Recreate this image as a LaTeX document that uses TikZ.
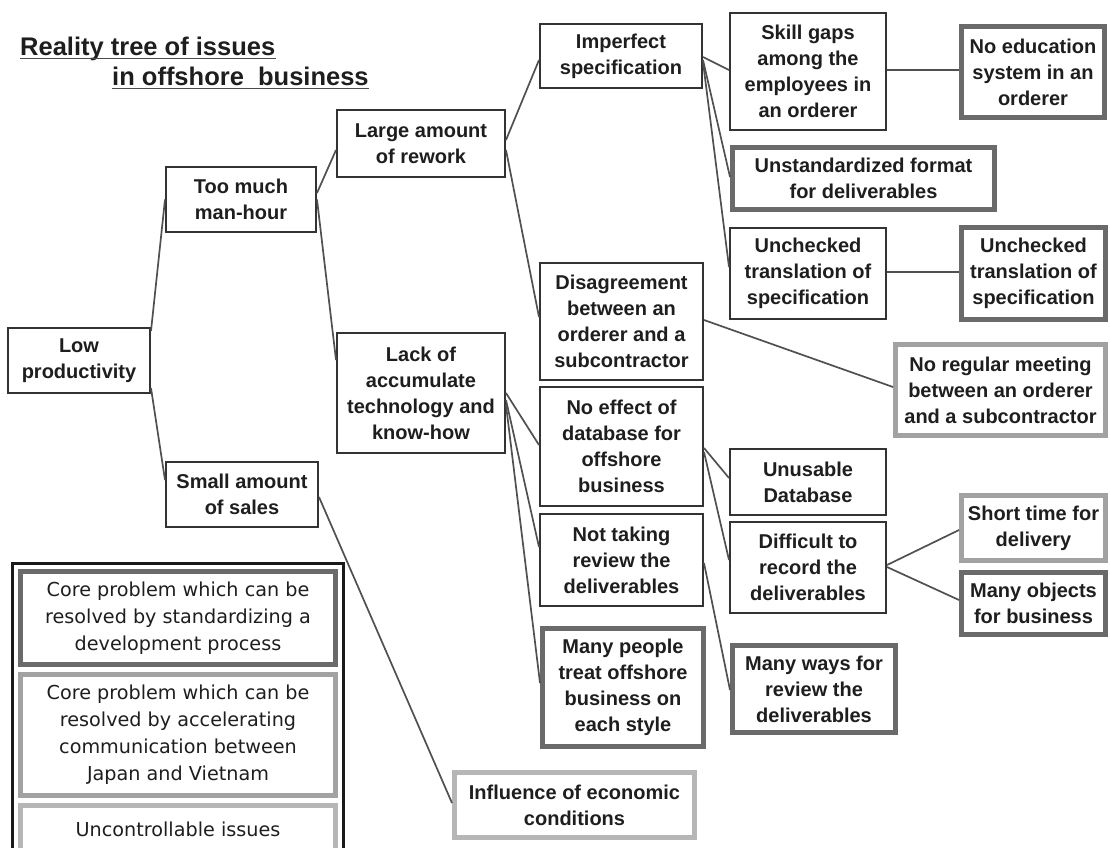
\documentclass[tikz,border=0pt]{standalone}
\usepackage{fontspec}
\setmainfont{Liberation Sans}
\newfontfamily\legendfont{DejaVu Sans}
\usetikzlibrary{calc}

\definecolor{ink}{HTML}{1E1E1E}
\definecolor{edgeC}{HTML}{333333}
\definecolor{stdC}{HTML}{6A6A6A}
\definecolor{comC}{HTML}{A2A2A2}
\definecolor{uncC}{HTML}{B6B6B6}
\definecolor{wireC}{HTML}{505050}

\tikzset{
  issue/.style={draw=edgeC, line width=2pt, fill=white, inner sep=0pt,
    align=center, text=ink, font=\bfseries\fontsize{20}{26}\selectfont},
  stdbox/.style={issue, draw=stdC, line width=5pt},
  combox/.style={issue, draw=comC, line width=5pt},
  uncbox/.style={issue, draw=uncC, line width=5pt},
  legbox/.style={fill=white, inner sep=0pt, align=center, text=ink,
    font=\legendfont\fontsize{19.2}{27}\selectfont},
  wire/.style={draw=wireC, line width=1.7pt},
  titletext/.style={inner sep=0pt, text=ink, font=\bfseries\fontsize{25.5}{30}\selectfont},
  uline/.style={draw=ink!80, line width=1.6pt},
}

\begin{document}
\begin{tikzpicture}[x=1pt, y=-1pt]
\useasboundingbox (0,0) rectangle (1110,847);

% title
\node[titletext, anchor=base west] (t1) at (20,55) {Reality tree of issues};
\node[titletext, anchor=base west] (t2) at (112,85) {in offshore\ \ business};
\draw[uline] ([yshift=-3.5pt]t1.base west) -- ([yshift=-3.5pt]t1.base east);
\draw[uline] ([yshift=-3.5pt]t2.base west) -- ([yshift=-3.5pt]t2.base east);

% first levels
\node[issue, minimum width=142, minimum height=65] (low) at (79,360.5) {Low\\productivity};
\node[issue, minimum width=150, minimum height=65] (toomuch) at (241,199.5) {Too much\\man-hour};
\node[issue, minimum width=152, minimum height=65] (sales) at (242,494.5) {Small amount\\of sales};
\node[issue, minimum width=168, minimum height=67] (rework) at (421,143.5) {Large amount\\of rework};
\node[issue, minimum width=168, minimum height=120] (lack) at (421,393) {Lack of\\accumulate\\technology and\\know-how};

% third column
\node[issue, minimum width=162, minimum height=64] (imperf) at (621,56) {Imperfect\\specification};
\node[issue, minimum width=163, minimum height=117] (disagree) at (621.5,321.5) {Disagreement\\between an\\orderer and a\\subcontractor};
\node[issue, minimum width=163, minimum height=119] (noeffect) at (621.5,446.5) {No effect of\\database for\\offshore\\business};
\node[issue, minimum width=163, minimum height=92] (notreview) at (621.5,560) {Not taking\\review the\\deliverables};
\node[stdbox, minimum width=161, minimum height=118] (manypeople) at (623,687.5) {Many people\\treat offshore\\business on\\each style};
\node[uncbox, minimum width=240, minimum height=65] (influence) at (574.5,805) {Influence of economic\\conditions};

% fourth column
\node[issue, minimum width=156, minimum height=117] (skill) at (808,71.5) {Skill gaps\\among the\\employees in\\an orderer};
\node[stdbox, minimum width=262, minimum height=62] (unstd) at (863.5,178.5) {Unstandardized format\\for deliverables};
\node[issue, minimum width=156, minimum height=91] (unchkL) at (808,273.5) {Unchecked\\translation of\\specification};
\node[issue, minimum width=156, minimum height=66] (unusable) at (808,482) {Unusable\\Database};
\node[issue, minimum width=156, minimum height=91] (difficult) at (808,567.5) {Difficult to\\record the\\deliverables};
\node[stdbox, minimum width=163, minimum height=87] (manyways) at (814,689) {Many ways for\\review the\\deliverables};

% fifth column
\node[stdbox, minimum width=143, minimum height=91] (noedu) at (1033,72) {No education\\system in an\\orderer};
\node[stdbox, minimum width=144, minimum height=92] (unchkR) at (1033.5,273.5) {Unchecked\\translation of\\specification};
\node[combox, minimum width=210, minimum height=91] (noreg) at (1000.5,390) {No regular meeting\\between an orderer\\and a subcontractor};
\node[combox, minimum width=144, minimum height=65] (shorttime) at (1033.5,528) {Short time for\\delivery};
\node[stdbox, minimum width=144, minimum height=62] (manyobj) at (1033.5,603.5) {Many objects\\for business};

% connectors
\draw[wire] ([yshift=29.5pt]low.east) -- (toomuch.west);
\draw[wire] ([yshift=-27.5pt]low.east) -- ([yshift=14.5pt]sales.west);
\draw[wire] ([yshift=6.5pt]toomuch.east) -- ([yshift=-6.5pt]rework.west);
\draw[wire] (toomuch.east) -- ([yshift=33pt]lack.west);
\draw[wire] ([yshift=-2.5pt]sales.east) -- ([yshift=2pt]influence.west);
\draw[wire] ([yshift=3.5pt]rework.east) -- ([yshift=-4pt]imperf.west);
\draw[wire] ([yshift=-6.5pt]rework.east) -- ([yshift=4.5pt]disagree.west);
\draw[wire] (lack.east) -- ([yshift=1.5pt]noeffect.west);
\draw[wire] ([yshift=-7pt]lack.east) -- ([yshift=13pt]notreview.west);
\draw[wire] ([yshift=-12pt]lack.east) -- ([yshift=4.5pt]manypeople.west);
\draw[wire] ([yshift=-1pt]imperf.east) -- ([yshift=1.5pt]skill.west);
\draw[wire] ([yshift=-4pt]imperf.east) -- ([yshift=1.5pt]unstd.west);
\draw[wire] ([yshift=-6pt]imperf.east) -- ([yshift=6.5pt]unchkL.west);
\draw[wire] ([yshift=1.5pt]skill.east) -- ([yshift=2pt]noedu.west);
\draw[wire] ([yshift=1.5pt]unchkL.east) -- ([yshift=1.5pt]unchkR.west);
\draw[wire] ([yshift=1.5pt]disagree.east) -- ([yshift=3pt]noreg.west);
\draw[wire] ([yshift=-1.5pt]noeffect.east) -- ([yshift=4pt]unusable.west);
\draw[wire] ([yshift=-5.5pt]noeffect.east) -- ([yshift=7.5pt]difficult.west);
\draw[wire] ([yshift=-3pt]notreview.east) -- ([yshift=-1pt]manyways.west);
\draw[wire] ([yshift=2.5pt]difficult.east) -- ([yshift=-2pt]shorttime.west);
\draw[wire] ([yshift=0.5pt]difficult.east) -- ([yshift=3.5pt]manyobj.west);

% legend
\node[draw=black!90, line width=3pt, minimum width=331, minimum height=300] (legend) at (177.5,713) {};
\node[legbox, draw=stdC, line width=5pt, minimum width=315, minimum height=93] (legstd) at (178,618) {Core problem which can be\\resolved by standardizing a\\development process};
\node[legbox, draw=comC, line width=5pt, minimum width=315, minimum height=121] (legcom) at (178,735) {Core problem which can be\\resolved by accelerating\\communication between\\Japan and Vietnam};
\node[legbox, draw=uncC, line width=5pt, minimum width=315, minimum height=47] (legunc) at (178,829) {Uncontrollable issues};
\end{tikzpicture}
\end{document}
